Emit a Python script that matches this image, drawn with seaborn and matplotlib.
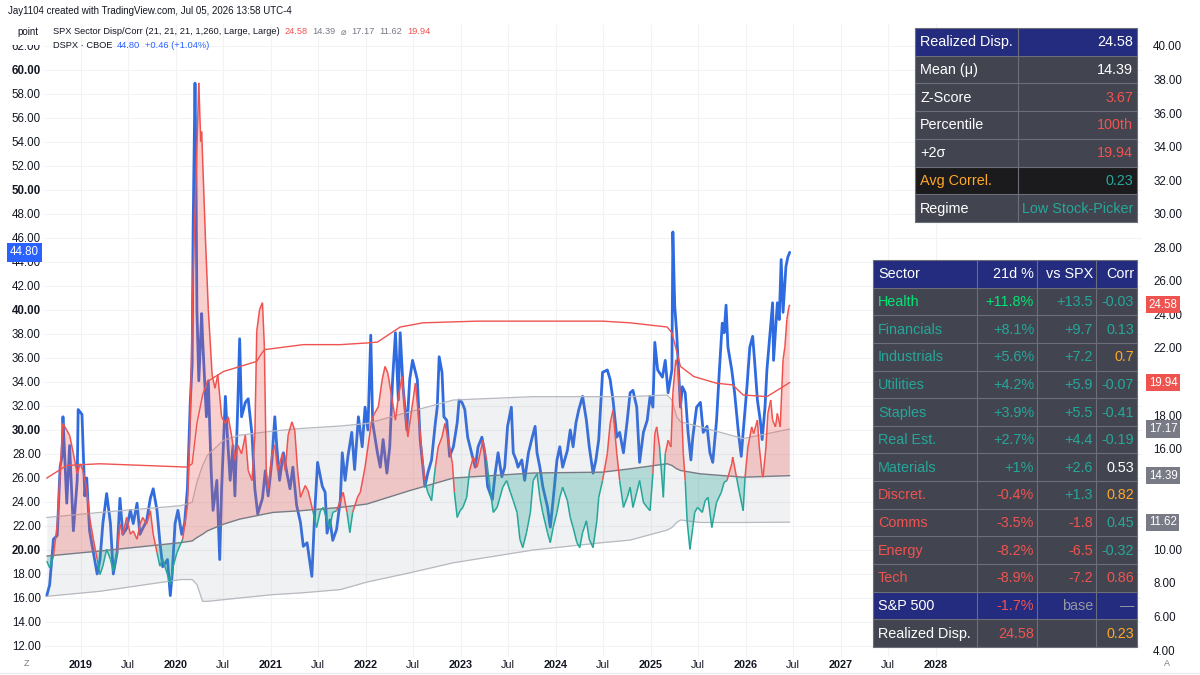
import numpy as np
import matplotlib
matplotlib.use("Agg")
import matplotlib.pyplot as plt
import seaborn as sns
from matplotlib.collections import LineCollection
from matplotlib.patches import Rectangle
from matplotlib.lines import Line2D
from matplotlib.text import Annotation
from matplotlib.transforms import blended_transform_factory

# ---------------- DATA ----------------
# DSPX (CBOE dispersion index), left axis
dspx_years = [
    2018.64, 2018.67, 2018.71, 2018.75, 2018.78, 2018.80, 2018.81, 2018.85, 2018.88, 2018.92,
    2018.96, 2018.97, 2019.01, 2019.04, 2019.06, 2019.09, 2019.13, 2019.17, 2019.20, 2019.23,
    2019.27, 2019.31, 2019.34, 2019.38, 2019.41, 2019.44, 2019.48, 2019.52, 2019.55, 2019.59,
    2019.62, 2019.65, 2019.69, 2019.73, 2019.76, 2019.80, 2019.83, 2019.86, 2019.91, 2019.94,
    2019.96, 2019.99, 2020.02, 2020.06, 2020.09, 2020.12, 2020.15, 2020.17, 2020.18, 2020.20,
    2020.21, 2020.22, 2020.24, 2020.27, 2020.28, 2020.32, 2020.34, 2020.37, 2020.39, 2020.43,
    2020.46, 2020.48, 2020.52, 2020.54, 2020.57, 2020.60, 2020.62, 2020.65, 2020.67, 2020.69,
    2020.73, 2020.76, 2020.80, 2020.83, 2020.86, 2020.91, 2020.94, 2020.97, 2021.01, 2021.04,
    2021.06, 2021.09, 2021.13, 2021.17, 2021.20, 2021.23, 2021.27, 2021.31, 2021.34, 2021.38,
    2021.43, 2021.46, 2021.49, 2021.54, 2021.57, 2021.59, 2021.62, 2021.65, 2021.69, 2021.73,
    2021.75, 2021.78, 2021.81, 2021.85, 2021.88, 2021.92, 2021.96, 2021.99, 2022.02, 2022.05,
    2022.07, 2022.12, 2022.15, 2022.18, 2022.22, 2022.25, 2022.28, 2022.31, 2022.34, 2022.36,
    2022.39, 2022.43, 2022.46, 2022.49, 2022.54, 2022.57, 2022.60, 2022.62, 2022.65, 2022.69,
    2022.73, 2022.75, 2022.77, 2022.80, 2022.82, 2022.85, 2022.88, 2022.92, 2022.96, 2022.98,
    2023.01, 2023.04, 2023.07, 2023.12, 2023.15, 2023.18, 2023.22, 2023.25, 2023.28, 2023.33,
    2023.36, 2023.39, 2023.43, 2023.46, 2023.49, 2023.53, 2023.55, 2023.58, 2023.60, 2023.64,
    2023.67, 2023.71, 2023.75, 2023.78, 2023.80, 2023.83, 2023.86, 2023.91, 2023.94, 2023.97,
    2024.01, 2024.04, 2024.07, 2024.12, 2024.15, 2024.18, 2024.21, 2024.24, 2024.28, 2024.32,
    2024.35, 2024.39, 2024.42, 2024.45, 2024.49, 2024.54, 2024.57, 2024.60, 2024.64, 2024.67,
    2024.71, 2024.75, 2024.78, 2024.81, 2024.85, 2024.88, 2024.92, 2024.96, 2024.99, 2025.02,
    2025.04, 2025.07, 2025.12, 2025.15, 2025.18, 2025.22, 2025.23, 2025.25, 2025.27, 2025.31,
    2025.33, 2025.36, 2025.39, 2025.42, 2025.44, 2025.48, 2025.52, 2025.55, 2025.59, 2025.62,
    2025.65, 2025.69, 2025.72, 2025.75, 2025.77, 2025.79, 2025.81, 2025.85, 2025.88, 2025.92,
    2025.95, 2025.97, 2026.01, 2026.04, 2026.07, 2026.09, 2026.12, 2026.15, 2026.17, 2026.20,
    2026.22, 2026.25, 2026.28, 2026.29, 2026.33, 2026.35, 2026.37, 2026.39, 2026.42, 2026.44, 2026.46,
]
dspx_vals = [
    16.2, 17.1, 20.9, 21.2, 26.9, 27.8, 31.1, 23.9, 28.7, 21.6,
    25.8, 31.7, 31.3, 24.5, 26.0, 21.6, 19.8, 18.0, 19.2, 22.2,
    24.7, 22.2, 18.0, 19.8, 24.3, 21.3, 21.8, 23.3, 22.2, 23.9,
    21.3, 21.8, 22.4, 24.3, 25.1, 23.3, 20.7, 18.6, 19.2, 16.2,
    18.0, 22.2, 23.3, 21.3, 22.2, 25.1, 32.3, 35.5, 46.6, 58.9,
    51.9, 40.0, 34.1, 39.7, 37.6, 31.1, 34.1, 26.6, 23.3, 25.8,
    19.2, 25.1, 32.8, 29.6, 25.8, 28.7, 24.5, 32.0, 37.6, 31.1,
    32.3, 32.6, 29.6, 25.1, 23.0, 24.3, 26.6, 24.5, 27.5, 31.1,
    28.7, 25.8, 28.1, 26.3, 25.1, 26.9, 23.7, 22.3, 20.3, 20.6,
    17.8, 23.1, 27.3, 25.3, 24.8, 21.4, 22.5, 20.8, 21.7, 24.2,
    28.1, 25.8, 27.8, 29.8, 26.7, 31.1, 28.6, 31.9, 30.0, 37.9,
    30.6, 28.1, 26.9, 29.2, 26.4, 28.6, 34.2, 38.1, 32.5, 38.1,
    33.6, 30.0, 34.2, 35.8, 34.2, 29.2, 26.9, 25.3, 26.4, 27.5,
    30.6, 31.9, 36.1, 34.8, 31.1, 30.8, 27.8, 28.6, 30.6, 32.5,
    32.3, 31.7, 29.4, 27.8, 26.9, 28.6, 29.4, 28.1, 25.3, 24.2,
    26.4, 28.1, 26.1, 26.9, 30.3, 31.9, 28.1, 27.5, 26.9, 27.5,
    25.8, 28.1, 29.4, 30.3, 28.1, 26.9, 25.3, 23.6, 21.9, 24.2,
    27.5, 28.6, 26.9, 28.3, 30.0, 28.6, 30.6, 31.7, 32.8, 30.8,
    28.6, 26.4, 27.5, 29.2, 34.8, 35.0, 34.2, 32.5, 29.4, 29.8,
    28.1, 30.8, 33.1, 33.3, 31.9, 27.3, 29.8, 30.8, 32.8, 31.9,
    37.3, 35.0, 34.4, 35.8, 33.1, 35.0, 46.5, 40.3, 38.1, 31.9,
    33.6, 33.1, 29.8, 27.5, 29.4, 31.9, 32.3, 29.8, 30.3, 28.1,
    27.3, 30.8, 35.0, 38.9, 38.1, 40.4, 36.9, 35.0, 33.1, 29.8,
    27.8, 29.8, 33.6, 36.9, 37.8, 35.8, 32.5, 30.8, 29.2, 31.9,
    35.0, 37.8, 40.6, 35.8, 40.6, 39.2, 44.2, 39.8, 43.6, 44.4, 44.80,
]

# Realized sector dispersion, right axis
disp_years = [
    2018.64, 2018.67, 2018.71, 2018.75, 2018.78, 2018.81, 2018.85, 2018.88, 2018.92, 2018.96,
    2018.99, 2019.02, 2019.06, 2019.09, 2019.13, 2019.17, 2019.20, 2019.23, 2019.27, 2019.31,
    2019.34, 2019.38, 2019.41, 2019.44, 2019.48, 2019.52, 2019.55, 2019.59, 2019.62, 2019.65,
    2019.69, 2019.73, 2019.76, 2019.80, 2019.83, 2019.86, 2019.91, 2019.94, 2019.97, 2020.01,
    2020.04, 2020.07, 2020.12, 2020.15, 2020.18, 2020.22, 2020.24, 2020.26, 2020.27, 2020.31,
    2020.34, 2020.38, 2020.41, 2020.44, 2020.48, 2020.52, 2020.55, 2020.59, 2020.62, 2020.65,
    2020.69, 2020.73, 2020.76, 2020.80, 2020.83, 2020.85, 2020.88, 2020.91, 2020.93, 2020.95,
    2020.97, 2021.01, 2021.04, 2021.07, 2021.12, 2021.15, 2021.18, 2021.22, 2021.25, 2021.28,
    2021.31, 2021.36, 2021.39, 2021.44, 2021.48, 2021.52, 2021.55, 2021.59, 2021.62, 2021.65,
    2021.69, 2021.73, 2021.76, 2021.80, 2021.83, 2021.86, 2021.91, 2021.94, 2021.99, 2022.02,
    2022.06, 2022.09, 2022.13, 2022.17, 2022.20, 2022.23, 2022.27, 2022.31, 2022.34, 2022.38,
    2022.41, 2022.44, 2022.48, 2022.52, 2022.55, 2022.59, 2022.62, 2022.65, 2022.69, 2022.73,
    2022.76, 2022.80, 2022.83, 2022.86, 2022.91, 2022.93, 2022.96, 2022.99, 2023.02, 2023.06,
    2023.09, 2023.13, 2023.17, 2023.20, 2023.23, 2023.27, 2023.31, 2023.34, 2023.38, 2023.41,
    2023.44, 2023.48, 2023.52, 2023.55, 2023.59, 2023.62, 2023.65, 2023.69, 2023.73, 2023.76,
    2023.80, 2023.83, 2023.86, 2023.91, 2023.94, 2023.97, 2024.01, 2024.04, 2024.07, 2024.12,
    2024.15, 2024.18, 2024.22, 2024.25, 2024.28, 2024.32, 2024.35, 2024.39, 2024.43, 2024.45,
    2024.49, 2024.54, 2024.57, 2024.60, 2024.64, 2024.67, 2024.71, 2024.75, 2024.78, 2024.81,
    2024.85, 2024.88, 2024.92, 2024.96, 2024.99, 2025.02, 2025.04, 2025.06, 2025.09, 2025.13,
    2025.15, 2025.18, 2025.21, 2025.23, 2025.26, 2025.28, 2025.32, 2025.34, 2025.36, 2025.38,
    2025.41, 2025.44, 2025.46, 2025.49, 2025.54, 2025.57, 2025.60, 2025.64, 2025.67, 2025.69,
    2025.74, 2025.77, 2025.80, 2025.85, 2025.86, 2025.90, 2025.93, 2025.97, 2025.99, 2026.02,
    2026.06, 2026.08, 2026.12, 2026.14, 2026.17, 2026.18, 2026.21, 2026.23, 2026.26, 2026.28,
    2026.31, 2026.33, 2026.36, 2026.39, 2026.41, 2026.43, 2026.45, 2026.46,
]
disp_vals = [
    9.3, 8.9, 9.6, 11.5, 14.7, 17.5, 17.1, 16.8, 15.7, 14.5,
    15.1, 14.7, 13.6, 11.9, 10.6, 9.4, 8.5, 9.0, 10.0, 9.4,
    8.7, 9.8, 11.5, 10.9, 11.9, 10.9, 11.1, 10.6, 11.5, 11.9,
    11.5, 12.3, 10.9, 9.8, 9.0, 9.4, 8.5, 7.9, 9.0, 9.8,
    10.2, 10.6, 12.6, 17.9, 26.4, 33.9, 37.8, 34.3, 34.9, 28.5,
    24.3, 20.4, 19.6, 20.4, 17.9, 17.5, 17.9, 16.6, 15.3, 16.2,
    15.7, 16.8, 14.7, 14.1, 16.8, 23.0, 24.3, 24.7, 22.1, 14.7,
    13.6, 15.7, 16.2, 14.7, 15.7, 14.7, 16.8, 17.6, 17.1, 14.7,
    13.1, 13.8, 13.5, 12.3, 11.3, 12.3, 12.5, 11.7, 11.3, 12.2,
    12.3, 12.9, 13.4, 12.2, 11.0, 12.2, 13.1, 13.4, 14.9, 16.1,
    17.7, 18.1, 18.5, 20.1, 20.9, 20.5, 19.1, 17.7, 19.1, 20.3,
    18.3, 16.7, 18.3, 19.9, 18.1, 15.7, 14.1, 13.4, 12.9, 14.9,
    16.1, 16.7, 17.5, 16.7, 15.1, 13.4, 11.9, 12.3, 12.5, 13.1,
    14.7, 15.5, 14.9, 15.7, 16.5, 15.3, 13.4, 12.2, 12.5, 13.1,
    13.7, 14.1, 13.4, 12.9, 12.2, 10.6, 10.1, 11.0, 12.2, 14.1,
    14.5, 13.1, 12.2, 11.0, 10.4, 11.3, 12.2, 13.1, 13.7, 12.9,
    11.9, 11.3, 10.4, 10.1, 11.0, 11.7, 10.6, 10.1, 11.7, 13.1,
    14.1, 15.7, 17.5, 18.3, 15.7, 14.1, 12.5, 13.1, 13.7, 12.5,
    13.4, 14.1, 12.8, 12.5, 12.3, 14.5, 16.9, 17.3, 16.1, 13.1,
    15.7, 16.5, 16.1, 19.3, 21.3, 20.9, 18.5, 15.7, 14.1, 11.7,
    10.0, 11.3, 12.2, 12.5, 12.2, 12.9, 13.1, 11.3, 12.2, 12.8,
    13.4, 14.0, 14.1, 15.1, 15.5, 14.3, 13.4, 12.3, 14.3, 16.1,
    17.3, 16.9, 17.7, 16.1, 14.5, 14.3, 16.1, 18.1, 18.9, 17.7,
    17.3, 18.1, 17.3, 21.3, 22.1, 23.7, 24.4, 24.58,
]

# Rolling (1,260-day) mean and +/-1 sigma band, right axis
band_years = [2018.64, 2019.20, 2020.05, 2020.17, 2020.22, 2020.28, 2020.33, 2020.50, 2020.67,
              2021.02, 2021.31, 2021.73, 2022.01, 2022.46, 2022.92, 2023.76, 2024.49, 2024.78,
              2025.17, 2025.22, 2025.27, 2025.31, 2025.52, 2025.97, 2026.46]
mean_vals = [9.6, 9.9, 10.4, 10.5, 10.7, 10.9, 11.1, 11.5, 11.8,
             12.2, 12.3, 12.5, 12.7, 13.5, 14.25, 14.55, 14.6, 14.8,
             15.1, 15.0, 14.8, 14.7, 14.5, 14.3, 14.39]
band_upper = [11.9, 12.2, 12.6, 12.8, 14.0, 15.0, 15.6, 16.5, 16.8,
              17.05, 17.2, 17.35, 17.5, 18.2, 18.9, 19.1, 19.1, 19.1,
              19.2, 18.9, 17.9, 17.6, 17.3, 16.6, 17.17]
band_lower = [7.2, 7.5, 8.2, 8.2, 7.9, 6.9, 6.9, 7.0, 7.1,
              7.3, 7.4, 7.6, 8.05, 8.6, 9.2, 9.96, 10.4, 10.55,
              11.15, 11.3, 11.6, 11.75, 11.6, 11.6, 11.62]

# +2 sigma threshold, right axis
plus2_years = [2018.64, 2018.85, 2019.20, 2020.12, 2020.17, 2020.22, 2020.28, 2020.33, 2020.50,
               2020.85, 2020.88, 2020.93, 2021.34, 2021.73, 2022.01, 2022.12, 2022.36, 2022.60,
               2023.17, 2024.49, 2024.78, 2025.17, 2025.22, 2025.27, 2025.31, 2025.45, 2025.69,
               2025.86, 2025.97, 2026.22, 2026.46]
plus2_vals = [14.25, 15.0, 15.1, 14.9, 15.1, 17.5, 19.2, 20.0, 20.6,
              21.2, 21.5, 21.9, 22.2, 22.2, 22.3, 22.35, 23.25, 23.5,
              23.6, 23.6, 23.5, 23.25, 22.9, 21.8, 20.9, 20.3, 19.9,
              19.8, 19.2, 19.1, 19.94]

# Tables
stat_labels = ["Realized Disp.", "Mean (μ)", "Z-Score", "Percentile", "+2σ", "Avg Correl.", "Regime"]
stat_values = ["24.58", "14.39", "3.67", "100th", "19.94", "0.23", "Low Stock-Picker"]

sector_header = ["Sector", "21d %", "vs SPX", "Corr"]
sectors = ["Health", "Financials", "Industrials", "Utilities", "Staples", "Real Est.",
           "Materials", "Discret.", "Comms", "Energy", "Tech"]
ret_21d = [11.8, 8.1, 5.6, 4.2, 3.9, 2.7, 1.0, -0.4, -3.5, -8.2, -8.9]
vs_spx = [13.5, 9.7, 7.2, 5.9, 5.5, 4.4, 2.6, 1.3, -1.8, -6.5, -7.2]
sector_corr = [-0.03, 0.13, 0.7, -0.07, -0.41, -0.19, 0.53, 0.82, 0.45, -0.32, 0.86]
spx_row = ["S&P 500", "-1.7%", "base", "—"]
disp_row = ["Realized Disp.", "24.58", "", "0.23"]

year_ticks = list(range(2019, 2029))
right_ticks = [4, 6, 8, 10, 16, 18, 22, 24, 26, 28, 30, 32, 34, 36, 38, 40]

# ---------------- STYLE ----------------
sns.set_theme(style="white")
plt.rcParams["font.family"] = ["Liberation Sans", "DejaVu Sans"]

W, H = 1200, 675
BLUE = "#2f6be0"
RED = "#ef5350"
TEAL = "#26a69a"
GREEN = "#00e676"
ORANGE = "#ffa726"
GRAY = "#787b86"
TXT = "#131722"
NAVY = "#232c7e"
CELL = "#42454f"
DARK = "#1b1b1d"
BORDER = "#6c6f79"

fig = plt.figure(figsize=(W / 100, H / 100), dpi=100)
fig.patch.set_facecolor("white")

ax_left, ax_right, ax_top, ax_bot = 45, 1142, 24, 657
ax = fig.add_axes([ax_left / W, 1 - ax_bot / H, (ax_right - ax_left) / W, (ax_bot - ax_top) / H])
ax.set_facecolor("white")
ax2 = ax.twinx()

X0 = 2018.621
X1 = X0 + (ax_right - ax_left) / 95.0

# --- left axis: DSPX ---
sns.lineplot(x=np.array(dspx_years), y=np.array(dspx_vals), ax=ax, color=BLUE,
             linewidth=2.0, estimator=None, sort=False, legend=False)
ax.set_xlim(X0, X1)
ax.set_ylim(11.08, 63.83)
lt = np.arange(12, 63, 2)
ax.set_yticks(lt)
ax.set_yticklabels([f"{v:.2f}" for v in lt])
for t, v in zip(ax.get_yticklabels(), lt):
    if v % 10 == 0:
        t.set_fontweight("bold")
ax.tick_params(axis="y", length=0, pad=3, labelsize=8.3, labelcolor=TXT)

xt, xl = [], []
for y in year_ticks:
    xt.append(y)
    xl.append(str(y))
    if y < 2028:
        xt.append(y + 0.496)
        xl.append("Jul")
ax.set_xticks(xt)
ax.set_xticklabels(xl)
for t, lab in zip(ax.get_xticklabels(), xl):
    if lab != "Jul":
        t.set_fontweight("bold")
ax.tick_params(axis="x", length=0, pad=2, labelsize=7.8, labelcolor=TXT)
ax.grid(True, color="#f1f3f7", linewidth=0.8)
ax.set_xlabel("")
ax.set_ylabel("")
for s in ax.spines.values():
    s.set_visible(False)

# --- right axis: dispersion ---
by = np.array(band_years)
ax2.fill_between(by, band_lower, band_upper, color="#8a8d96", alpha=0.12, linewidth=0, zorder=1)
sns.lineplot(x=by, y=np.array(band_upper), ax=ax2, color="#b7b9c0", linewidth=0.9,
             estimator=None, sort=False, legend=False)
sns.lineplot(x=by, y=np.array(band_lower), ax=ax2, color="#b7b9c0", linewidth=0.9,
             estimator=None, sort=False, legend=False)

dy = np.array(disp_years)
dv = np.array(disp_vals)
m_at = np.interp(dy, by, mean_vals)
ax2.fill_between(dy, dv, m_at, where=dv >= m_at, interpolate=True, color=RED, alpha=0.27,
                 linewidth=0, zorder=2)
ax2.fill_between(dy, dv, m_at, where=dv < m_at, interpolate=True, color=TEAL, alpha=0.30,
                 linewidth=0, zorder=2)
sns.lineplot(x=by, y=np.array(mean_vals), ax=ax2, color=GRAY, linewidth=1.0,
             estimator=None, sort=False, legend=False)
sns.lineplot(x=np.array(plus2_years), y=np.array(plus2_vals), ax=ax2, color=RED,
             linewidth=1.0, estimator=None, sort=False, legend=False)

pts = np.column_stack([dy, dv])
segs = np.stack([pts[:-1], pts[1:]], axis=1)
mid_above = (dv[:-1] + dv[1:]) / 2 >= (m_at[:-1] + m_at[1:]) / 2
lc = LineCollection(segs, colors=[RED if a else TEAL for a in mid_above], linewidths=1.1, zorder=4)
ax2.add_collection(lc)

ax2.set_xlim(X0, X1)
ax2.set_ylim(3.583, 41.31)
ax2.set_yticks(right_ticks)
ax2.set_yticklabels([f"{v:.2f}" for v in right_ticks])
ax2.tick_params(axis="y", length=0, pad=8, labelsize=8.3, labelcolor=TXT)
ax2.set_ylabel("")
ax2.grid(False)
for s in ax2.spines.values():
    s.set_visible(False)

# price badges
tr2 = blended_transform_factory(ax2.transAxes, ax2.transData)
badges = [(disp_vals[-1], RED), (plus2_vals[-1], RED), (band_upper[-1], GRAY),
          (mean_vals[-1], GRAY), (band_lower[-1], GRAY)]
for v, c in badges:
    ax2.text(1.0062, v, f"{v:.2f}", transform=tr2, ha="left", va="center", fontsize=8.3,
             color="white", zorder=30, clip_on=False,
             bbox=dict(boxstyle="square,pad=0.22", fc=c, ec="none"))
tr1 = blended_transform_factory(ax.transAxes, ax.transData)
ax.text(-0.0055, dspx_vals[-1], f"{dspx_vals[-1]:.2f}", transform=tr1, ha="right", va="center",
        fontsize=8.3, color="white", zorder=30, clip_on=False,
        bbox=dict(boxstyle="square,pad=0.3", fc="#2962ff", ec="none"))


# ---------------- HEADER TEXT ----------------
def fx(x):
    return x / W


def fy(y):
    return 1 - y / H


fig.text(fx(8), fy(11), "Jay1104 created with TradingView.com, Jul 05, 2026 13:58 UTC-4",
         fontsize=7.0, color=TXT, va="center", ha="left")
fig.add_artist(Rectangle((fx(0), fy(45)), 46 / W, 23 / H, transform=fig.transFigure,
                         facecolor="white", edgecolor="none", zorder=19))
fig.text(fx(17), fy(32), "point", fontsize=7.0, color=TXT, va="center", ha="left", zorder=20)


def chain(parts, x, y):
    first = fig.text(fx(x), fy(y), parts[0][0], color=parts[0][1], fontsize=6.7,
                     va="center", ha="left", zorder=20)
    prev = first
    for s, c in parts[1:]:
        a = Annotation(s, xy=(1, 0.5), xycoords=prev, xytext=(3.5, 0), textcoords="offset points",
                       va="center", ha="left", fontsize=6.7, color=c, zorder=20)
        fig.add_artist(a)
        prev = a


chain([("SPX Sector Disp/Corr (21, 21, 21, 1,260, Large, Large)", TXT),
       (f"{disp_vals[-1]:.2f}", RED), (f"{mean_vals[-1]:.2f}", GRAY), ("⌀", GRAY),
       (f"{band_upper[-1]:.2f}", GRAY), (f"{band_lower[-1]:.2f}", GRAY),
       (f"{plus2_vals[-1]:.2f}", RED)], 53, 32)
chain([("DSPX · CBOE", TXT), (f"{dspx_vals[-1]:.2f}", "#2962ff"), ("+0.46 (+1.04%)", "#2962ff")], 53, 45)

fig.text(fx(27), fy(663), "Z", fontsize=6.5, color=GRAY, ha="center", va="center")
fig.text(fx(1167), fy(664), "A", fontsize=6.5, color=GRAY, ha="center", va="center")
fig.add_artist(Line2D([0, 1], [fy(673), fy(673)], transform=fig.transFigure, color="#e6e8ee", lw=0.8))


# ---------------- TABLES ----------------
def cell(x0, y0, x1, y1, color):
    fig.add_artist(Rectangle((fx(x0), fy(y1)), (x1 - x0) / W, (y1 - y0) / H,
                             transform=fig.transFigure, facecolor=color, edgecolor="none", zorder=10))


def hline(x0, x1, y):
    fig.add_artist(Line2D([fx(x0), fx(x1)], [fy(y), fy(y)], transform=fig.transFigure,
                          color=BORDER, lw=0.8, zorder=11))


def vline(x, y0, y1):
    fig.add_artist(Line2D([fx(x), fx(x)], [fy(y0), fy(y1)], transform=fig.transFigure,
                          color=BORDER, lw=0.8, zorder=11))


def txt(x, y, s, c, ha="left"):
    fig.text(fx(x), fy(y), s, color=c, fontsize=10.4, ha=ha, va="center", zorder=12)


# Table 1: stats
t1x0, t1x1, t1split, t1y0, t1rh = 915, 1137, 1018, 28, 27.71
t1_bg = [NAVY, CELL, CELL, CELL, CELL, DARK, CELL]
t1_lc = ["white", "white", "white", "white", "white", ORANGE, "white"]
t1_vc = ["white", "white", RED, RED, RED, TEAL, TEAL]
for i, (lab, val) in enumerate(zip(stat_labels, stat_values)):
    ya = t1y0 + i * t1rh
    yb = ya + t1rh
    cell(t1x0, ya, t1x1, yb, t1_bg[i])
    txt(t1x0 + 5, (ya + yb) / 2 + 0.5, lab, t1_lc[i])
    txt(t1x1 - 4, (ya + yb) / 2 + 0.5, val, t1_vc[i], ha="right")
for i in range(len(stat_labels) + 1):
    hline(t1x0, t1x1, t1y0 + i * t1rh)
vline(t1x0, t1y0, t1y0 + 7 * t1rh)
vline(t1split, t1y0, t1y0 + 7 * t1rh)
vline(t1x1, t1y0, t1y0 + 7 * t1rh)

# Table 2: sectors
t2x0, t2x1, t2y0, t2rh = 873, 1137, 260, 27.64
t2cols = [873, 977, 1037, 1096, 1137]
nrows = 1 + len(sectors) + 2


def sign_col(v):
    return TEAL if v >= 0 else RED


def corr_col(v):
    if v > 0.85:
        return RED
    if v > 0.65:
        return ORANGE
    if v > 0.5:
        return "white"
    return TEAL


rows = [(sector_header, ["white"] * 4, NAVY)]
for k, name in enumerate(sectors):
    lead = GREEN if k == 0 else sign_col(ret_21d[k])
    rows.append(([name, f"{ret_21d[k]:+g}%", f"{vs_spx[k]:+g}", f"{sector_corr[k]:g}"],
                 [lead, lead, sign_col(vs_spx[k]), corr_col(sector_corr[k])], CELL))
rows.append((spx_row, ["white", RED, "#9598a1", "#9598a1"], NAVY))
rows.append((disp_row, ["white", RED, "white", ORANGE], CELL))

for i, (vals, cols, bg) in enumerate(rows):
    ya = t2y0 + i * t2rh
    yb = ya + t2rh
    yc = (ya + yb) / 2 + 0.5
    cell(t2x0, ya, t2x1, yb, bg)
    txt(t2cols[0] + 5, yc, vals[0], cols[0])
    for j in range(1, 4):
        if vals[j]:
            txt(t2cols[j + 1] - 3, yc, vals[j], cols[j], ha="right")
for i in range(nrows + 1):
    hline(t2x0, t2x1, t2y0 + i * t2rh)
for xc in t2cols:
    vline(xc, t2y0, t2y0 + nrows * t2rh)

fig.savefig("out.png", dpi=100)
